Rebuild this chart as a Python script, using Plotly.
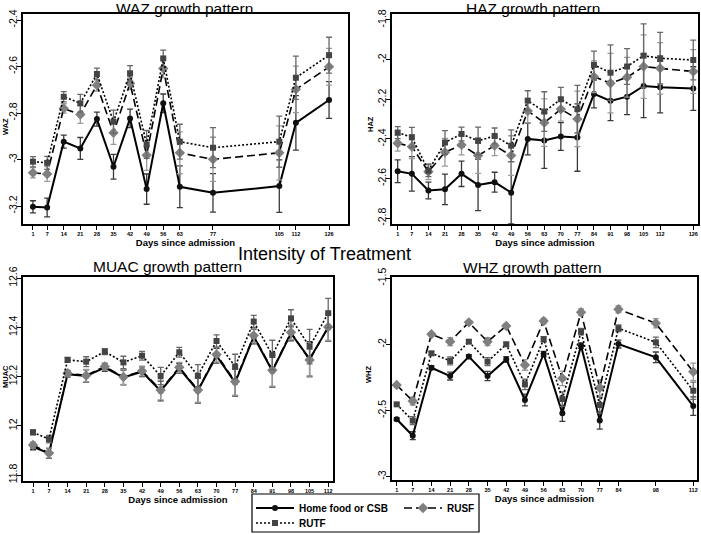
import plotly.graph_objects as go

# ---------------- data ----------------
SERIES = ["Home food or CSB", "RUSF", "RUTF"]

WAZ_DAYS = [1, 7, 14, 21, 28, 35, 42, 49, 56, 63, 77, 105, 112, 126]
WAZ_HOME = [-3.203, -3.206, -2.923, -2.952, -2.826, -3.031, -2.823, -3.127, -2.758, -3.117, -3.143, -3.114, -2.842, -2.744]
WAZ_HOME_ERR = [0.026, 0.040, 0.028, 0.047, 0.030, 0.053, 0.040, 0.065, 0.040, 0.090, 0.083, 0.113, 0.117, 0.079]
WAZ_RUSF = [-3.057, -3.062, -2.780, -2.806, -2.680, -2.885, -2.672, -2.981, -2.608, -2.971, -2.999, -2.971, -2.698, -2.601]
WAZ_RUSF_ERR = [0.022, 0.032, 0.020, 0.038, 0.025, 0.050, 0.027, 0.065, 0.040, 0.090, 0.095, 0.116, 0.100, 0.079]
WAZ_RUTF = [-3.009, -3.014, -2.730, -2.758, -2.632, -2.837, -2.629, -2.935, -2.565, -2.923, -2.949, -2.923, -2.648, -2.551]
WAZ_RUTF_ERR = [0.022, 0.028, 0.022, 0.038, 0.025, 0.050, 0.033, 0.060, 0.036, 0.075, 0.086, 0.110, 0.093, 0.077]
WAZ_YTICKS = [-3.2, -3, -2.8, -2.6, -2.4]

HAZ_DAYS = [1, 7, 14, 21, 28, 35, 42, 49, 56, 63, 70, 77, 84, 91, 98, 105, 112, 126]
HAZ_HOME = [-2.563, -2.576, -2.660, -2.654, -2.576, -2.632, -2.618, -2.671, -2.400, -2.408, -2.388, -2.393, -2.173, -2.208, -2.187, -2.133, -2.139, -2.146]
HAZ_HOME_ERR = [0.057, 0.087, 0.042, 0.077, 0.064, 0.130, 0.050, 0.157, 0.080, 0.140, 0.070, 0.170, 0.070, 0.100, 0.090, 0.160, 0.130, 0.110]
HAZ_RUSF = [-2.422, -2.439, -2.565, -2.467, -2.430, -2.484, -2.434, -2.484, -2.259, -2.318, -2.250, -2.299, -2.086, -2.119, -2.089, -2.035, -2.044, -2.060]
HAZ_RUSF_ERR = [0.040, 0.060, 0.040, 0.070, 0.050, 0.090, 0.050, 0.100, 0.060, 0.120, 0.060, 0.140, 0.080, 0.150, 0.100, 0.160, 0.130, 0.110]
HAZ_RUTF = [-2.368, -2.392, -2.560, -2.418, -2.375, -2.410, -2.385, -2.434, -2.207, -2.262, -2.200, -2.250, -2.027, -2.066, -2.035, -1.980, -1.993, -2.002]
HAZ_RUTF_ERR = [0.030, 0.050, 0.030, 0.060, 0.035, 0.070, 0.040, 0.080, 0.050, 0.100, 0.060, 0.120, 0.070, 0.140, 0.090, 0.160, 0.130, 0.100]
HAZ_YTICKS = [-2.8, -2.6, -2.4, -2.2, -2, -1.8]

MUAC_DAYS = [1, 7, 14, 21, 28, 35, 42, 49, 56, 63, 70, 77, 84, 91, 98, 105, 112]
MUAC_HOME = [11.915, 11.888, 12.210, 12.203, 12.237, 12.197, 12.220, 12.142, 12.234, 12.143, 12.285, 12.176, 12.363, 12.223, 12.376, 12.272, 12.400]
MUAC_HOME_ERR = [0.012, 0.020, 0.012, 0.025, 0.015, 0.030, 0.020, 0.040, 0.020, 0.050, 0.030, 0.055, 0.030, 0.065, 0.030, 0.070, 0.055]
MUAC_RUSF = [11.922, 11.890, 12.214, 12.205, 12.241, 12.199, 12.223, 12.146, 12.238, 12.146, 12.290, 12.180, 12.367, 12.226, 12.380, 12.268, 12.402]
MUAC_RUSF_ERR = [0.012, 0.020, 0.012, 0.025, 0.015, 0.030, 0.020, 0.040, 0.020, 0.050, 0.030, 0.055, 0.030, 0.065, 0.030, 0.070, 0.055]
MUAC_RUTF = [11.974, 11.946, 12.268, 12.261, 12.302, 12.258, 12.285, 12.203, 12.299, 12.204, 12.345, 12.241, 12.424, 12.288, 12.437, 12.322, 12.458]
MUAC_RUTF_ERR = [0.010, 0.015, 0.010, 0.020, 0.012, 0.025, 0.018, 0.035, 0.020, 0.045, 0.025, 0.050, 0.025, 0.060, 0.035, 0.070, 0.060]
MUAC_YTICKS = [11.8, 12, 12.2, 12.4, 12.6]

WHZ_DAYS = [1, 7, 14, 21, 28, 35, 42, 49, 56, 63, 70, 77, 84, 98, 112]
WHZ_HOME = [-2.566, -2.690, -2.176, -2.239, -2.092, -2.239, -2.113, -2.420, -2.072, -2.521, -2.009, -2.576, -1.997, -2.097, -2.466]
WHZ_HOME_ERR = [0.010, 0.030, 0.015, 0.030, 0.015, 0.035, 0.020, 0.045, 0.020, 0.060, 0.020, 0.065, 0.030, 0.040, 0.070]
WHZ_RUSF = [-2.307, -2.428, -1.923, -1.979, -1.833, -1.979, -1.860, -2.155, -1.823, -2.256, -1.757, -2.327, -1.734, -1.840, -2.206]
WHZ_RUSF_ERR = [0.010, 0.030, 0.012, 0.030, 0.012, 0.030, 0.015, 0.040, 0.020, 0.055, 0.025, 0.060, 0.025, 0.035, 0.065]
WHZ_RUTF = [-2.453, -2.576, -2.067, -2.125, -1.979, -2.130, -1.999, -2.302, -1.961, -2.413, -1.903, -2.458, -1.878, -1.984, -2.350]
WHZ_RUTF_ERR = [0.010, 0.030, 0.012, 0.030, 0.012, 0.030, 0.015, 0.040, 0.020, 0.055, 0.025, 0.060, 0.025, 0.040, 0.065]
WHZ_YTICKS = [-3, -2.5, -2, -1.5]

# ---------------- styling ----------------
W, H = 701, 534
FONT = "Liberation Sans, Arial, Helvetica, sans-serif"
STYLE = {
    "Home food or CSB": dict(dash="solid", width=2, symbol="circle", msize=6, mcolor="#111111", ecolor="#3a3a3a"),
    "RUSF": dict(dash="8px,4px", width=1.6, symbol="diamond", msize=8, mcolor="#7f7f7f", ecolor="#9a9a9a"),
    "RUTF": dict(dash="2px,2px", width=1.6, symbol="square", msize=6, mcolor="#444444", ecolor="#686868"),
}
LEGEND_KEYS = {"Home food or CSB": "legend", "RUSF": "legend2", "RUTF": "legend3"}


def px_x(p):
    return p / W


def px_y(p):
    return 1 - p / H


panels = [
    # name, days, series, yticks, x-range, y-range, box x px, box y px, y-title px position
    ("WAZ", WAZ_DAYS, [(WAZ_HOME, WAZ_HOME_ERR), (WAZ_RUSF, WAZ_RUSF_ERR), (WAZ_RUTF, WAZ_RUTF_ERR)],
     WAZ_YTICKS, [-3.2, 134], [-3.277, -2.374], (23, 348), (14, 224), (5, 127)),
    ("HAZ", HAZ_DAYS, [(HAZ_HOME, HAZ_HOME_ERR), (HAZ_RUSF, HAZ_RUSF_ERR), (HAZ_RUTF, HAZ_RUTF_ERR)],
     HAZ_YTICKS, [-1.4, 128], [-2.829, -1.77], (392, 698), (14, 224), (370, 124)),
    ("MUAC", MUAC_DAYS, [(MUAC_HOME, MUAC_HOME_ERR), (MUAC_RUSF, MUAC_RUSF_ERR), (MUAC_RUTF, MUAC_RUTF_ERR)],
     MUAC_YTICKS, [-2.76, 113.8], [11.776, 12.605], (23, 333), (277, 481), (5, 377)),
    ("WHZ", WHZ_DAYS, [(WHZ_HOME, WHZ_HOME_ERR), (WHZ_RUSF, WHZ_RUSF_ERR), (WHZ_RUTF, WHZ_RUTF_ERR)],
     WHZ_YTICKS, [-0.76, 113.4], [-3.025, -1.49], (392, 697), (277, 480), (368, 375)),
]

fig = go.Figure()
layout = dict(
    width=W, height=H,
    margin=dict(l=0, r=0, t=0, b=0, autoexpand=False),
    paper_bgcolor="white", plot_bgcolor="white",
    font=dict(family=FONT, color="black"),
    showlegend=True,
)
annotations = []

for i, (name, days, series, yticks, xr, yr, xd, yd, ytpos) in enumerate(panels):
    k = "" if i == 0 else str(i + 1)
    for sname, (vals, errs) in zip(SERIES, series):
        st = STYLE[sname]
        fig.add_trace(go.Scatter(
            x=days, y=vals, name=sname, mode="lines+markers",
            xaxis="x" + k, yaxis="y" + k,
            line=dict(color="black", width=st["width"], dash=st["dash"]),
            marker=dict(symbol=st["symbol"], size=st["msize"], color=st["mcolor"], line=dict(width=0)),
            error_y=dict(type="data", array=errs, visible=True, color=st["ecolor"], thickness=1.3, width=3),
            showlegend=(i == 0), legend=LEGEND_KEYS[sname],
        ))
    axis_common = dict(
        showgrid=False, zeroline=False, showline=True, mirror=True,
        linecolor="black", linewidth=1.5, ticks="outside", ticklen=4, tickwidth=1, tickcolor="black",
    )
    layout["xaxis" + k] = dict(
        axis_common, domain=[px_x(xd[0]), px_x(xd[1])], range=xr, anchor="y" + k,
        tickvals=days, ticktext=[str(d) for d in days],
        tickfont=dict(size=5.5, family=FONT, weight="bold"),
        title=dict(text="Days since admission", font=dict(size=9.5, family=FONT, weight="bold"), standoff=1),
    )
    layout["yaxis" + k] = dict(
        axis_common, domain=[px_y(yd[1]), px_y(yd[0])], range=yr, anchor="x" + k,
        tickvals=yticks, ticktext=[str(t) for t in yticks], tickangle=-90,
        tickfont=dict(size=10.5, family=FONT), ticklabelstandoff=-4,
    )
    annotations.append(dict(text=name, x=px_x(ytpos[0]), y=px_y(ytpos[1]), textangle=-90,
                            font=dict(size=7.5, family=FONT, weight="bold", color="black")))

titles = [
    dict(text="WAZ growth pattern", x=px_x(185), y=px_y(8)),
    dict(text="HAZ growth pattern", x=px_x(533), y=px_y(8)),
    dict(text="MUAC growth pattern", x=px_x(167), y=px_y(266)),
    dict(text="WHZ growth pattern", x=px_x(532), y=px_y(267)),
]
for t in titles:
    annotations.append(dict(t, font=dict(size=15.5, family=FONT, color="black")))
annotations.append(dict(text="Intensity of Treatment", x=px_x(324), y=px_y(254),
                        font=dict(size=18, family=FONT, color="black")))
layout["annotations"] = [dict(a, xref="paper", yref="paper", xanchor="center", yanchor="middle",
                              showarrow=False) for a in annotations]

leg_common = dict(orientation="h", xanchor="left", yanchor="middle", bgcolor="rgba(0,0,0,0)",
                  borderwidth=0, font=dict(size=10, family=FONT, weight="bold"), itemwidth=38)
layout["legend"] = dict(leg_common, x=px_x(251), y=px_y(508))
layout["legend2"] = dict(leg_common, x=px_x(399), y=px_y(508))
layout["legend3"] = dict(leg_common, x=px_x(251), y=px_y(523))
layout["shapes"] = [dict(type="rect", xref="paper", yref="paper",
                         x0=px_x(252), x1=px_x(479), y0=px_y(532), y1=px_y(494),
                         line=dict(color="black", width=1.2), fillcolor="rgba(0,0,0,0)")]

fig.update_layout(**layout)
fig.write_html("out.html", config={"displayModeBar": False},
               post_script="document.body.style.margin='0px';")
